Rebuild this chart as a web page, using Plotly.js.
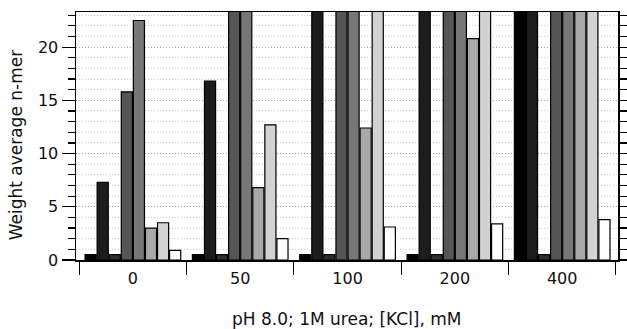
<!DOCTYPE html>
<html>
<head>
<meta charset="utf-8">
<script src="https://cdn.plot.ly/plotly-3.0.1.min.js"></script>
<style>html,body{margin:0;padding:0;background:#fff;}#chart{width:627px;height:329px;}</style>
</head>
<body>
<div id="chart"></div>
<script>
// Categories: [KCl], mM
const categories = ['0', '50', '100', '200', '400'];
// Eight series (values above the axis top are clipped in the reference; estimated)
const series1 = [0.5, 0.5, 0.5, 0.5, 30];
const series2 = [7.3, 16.8, 30, 30, 30];
const series3 = [0.5, 0.5, 0.5, 0.5, 0.5];
const series4 = [15.8, 30, 30, 30, 30];
const series5 = [22.5, 30, 30, 30, 30];
const series6 = [3.0, 6.8, 12.4, 20.8, 30];
const series7 = [3.5, 12.7, 30, 30, 30];
const series8 = [0.9, 2.0, 3.1, 3.4, 3.8];
const allSeries = [series1, series2, series3, series4, series5, series6, series7, series8];
const fills = ['#000000', '#1c1c1c', '#2e2e2e', '#555555', '#777777', '#a8a8a8', '#d2d2d2', '#ffffff'];
const xTitle = 'pH 8.0; 1M urea; [KCl], mM';
const yTitle = 'Weight average n-mer';

const font = 'DejaVu Sans, Verdana, sans-serif';
const traces = allSeries.map((vals, i) => ({
  type: 'bar',
  x: categories,
  y: vals,
  marker: {color: fills[i], line: {color: '#000', width: 1.2}},
  showlegend: false,
  hoverinfo: 'skip'
}));

const layout = {
  width: 627, height: 329,
  margin: {l: 76, r: 9, t: 12, b: 69},
  paper_bgcolor: '#fff', plot_bgcolor: '#fff',
  barmode: 'group', bargap: 0.1, bargroupgap: 0.08,
  font: {family: font, color: '#111', size: 16},
  xaxis: {
    type: 'category',
    range: [-0.53, 4.52],
    tickson: 'boundaries',
    ticks: 'outside', ticklen: 13, tickwidth: 1.2, tickcolor: '#000',
    ticklabelstandoff: 3,
    showline: true, linecolor: '#000', linewidth: 1.5, mirror: true,
    showgrid: false, zeroline: false,
    tickfont: {size: 16, family: font}
  },
  yaxis: {
    range: [0, 23.3],
    tickmode: 'linear', tick0: 0, dtick: 5,
    ticks: 'outside', ticklen: 13, tickwidth: 1.2, tickcolor: '#000',
    showline: true, linecolor: '#000', linewidth: 1.5, mirror: 'ticks',
    showgrid: true, gridcolor: '#a8a8a8', griddash: '1px,2px', gridwidth: 1,
    zeroline: false,
    tickfont: {size: 16, family: font},
    minor: {dtick: 1, tick0: 0, ticks: 'outside', ticklen: 7, tickcolor: '#000', tickwidth: 1.2,
            showgrid: true, gridcolor: '#d0d0d0', griddash: '1px,2px', gridwidth: 1}
  },
  annotations: [
    {text: xTitle, xref: 'paper', yref: 'paper', x: 0.5, y: -0.239, xanchor: 'center', yanchor: 'middle',
     showarrow: false, font: {size: 17, family: font, color: '#111'}},
    {text: yTitle, xref: 'paper', yref: 'paper', x: -0.109, y: 0.466, xanchor: 'center', yanchor: 'middle',
     textangle: -90, showarrow: false, font: {size: 17, family: font, color: '#111'}}
  ]
};

Plotly.newPlot('chart', traces, layout, {displayModeBar: false, staticPlot: true});
</script>
</body>
</html>
